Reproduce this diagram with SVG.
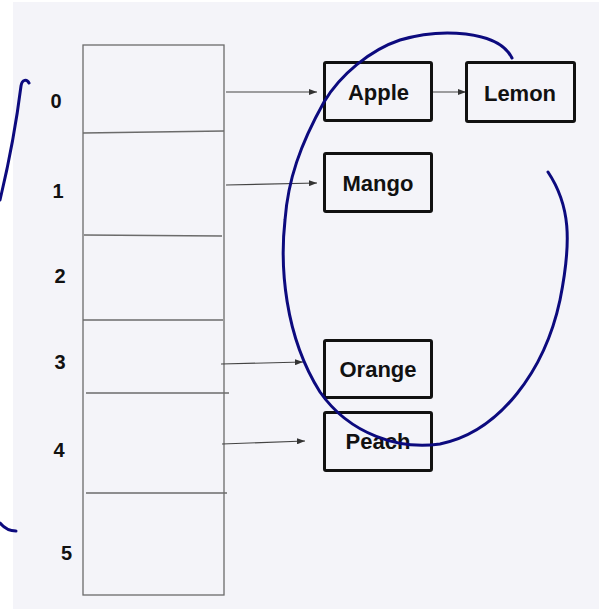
<svg xmlns="http://www.w3.org/2000/svg" width="599" height="611" viewBox="0 0 599 611">
  <style>
    .cell { fill: none; stroke: #6b6b6b; stroke-width: 1.3; }
    .idx { font-family: "Liberation Sans", Arial, sans-serif; font-weight: bold; font-size: 20px; fill: #111; text-anchor: middle; }
    .node rect { fill: none; stroke: #111; stroke-width: 3; }
    .node text { font-family: "Liberation Sans", Arial, sans-serif; font-weight: bold; font-size: 22px; fill: #111; text-anchor: middle; }
    .link { stroke: #444; stroke-width: 1.1; fill: none; marker-end: url(#head); }
    .ink { fill: none; stroke: #0c0a7e; stroke-width: 3; stroke-linecap: round; stroke-linejoin: round; }
  </style>
  <defs>
    <marker id="head" viewBox="0 0 8 6" refX="8" refY="3" markerWidth="8" markerHeight="6" markerUnits="userSpaceOnUse" orient="auto">
      <path d="M0,0 L8,3 L0,6 Z" fill="#333"/>
    </marker>
  </defs>

  <!-- page -->
  <rect width="599" height="611" fill="#ffffff"/>
  <rect x="13" y="2" width="586" height="607" fill="#f4f4f9"/>

  <!-- array of buckets -->
  <g id="array">
    <rect class="cell" x="83" y="45" width="141" height="550"/>
    <path class="cell" d="M83,133 L224,131"/>
    <path class="cell" d="M84,235 L222,236"/>
    <path class="cell" d="M83,320 L223,320"/>
    <path class="cell" d="M86,393 L229,393"/>
    <path class="cell" d="M86,493 L227,493"/>
  </g>

  <g id="indices">
    <text class="idx" x="56" y="108">0</text>
    <text class="idx" x="58" y="198">1</text>
    <text class="idx" x="60" y="283">2</text>
    <text class="idx" x="60" y="369">3</text>
    <text class="idx" x="59" y="457">4</text>
    <text class="idx" x="66.5" y="560">5</text>
  </g>

  <!-- connectors -->
  <g id="connectors">
    <path class="link" d="M226,92 L317,92"/>
    <path class="link" d="M226,185 L317,183"/>
    <path class="link" d="M433,92 L466,92"/>
    <path class="link" d="M221,364 L303,362"/>
    <path class="link" d="M222,444 L305,441"/>
  </g>

  <!-- list nodes -->
  <g id="apple" class="node">
    <rect x="324.5" y="62.5" width="107" height="58" rx="1.5"/>
    <text x="378.5" y="100">Apple</text>
  </g>
  <g id="lemon" class="node">
    <rect x="466.5" y="62.5" width="108" height="59" rx="1.5"/>
    <text x="520" y="101">Lemon</text>
  </g>
  <g id="mango" class="node">
    <rect x="324.5" y="153.5" width="107" height="58" rx="1.5"/>
    <text x="378" y="191">Mango</text>
  </g>
  <g id="orange" class="node">
    <rect x="324.5" y="340.5" width="107" height="57" rx="1.5"/>
    <text x="378" y="377">Orange</text>
  </g>
  <g id="peach" class="node">
    <rect x="324.5" y="412.5" width="107" height="58" rx="1.5"/>
    <text x="378" y="449">Peach</text>
  </g>

  <!-- hand-drawn annotations -->
  <g id="annotations">
    <path class="ink" d="M512,58 C498,30 440,28 400,40 C370,50 340,75 324,102 C300,145 288,180 285,220 C280,265 284,335 320,392 C350,435 400,450 440,444 C500,432 545,370 560,300 C572,240 570,205 548,172"/>
    <path class="ink" d="M29,83 C27,79 22,79 21,86 C18,110 12,150 0,200"/>
    <path class="ink" d="M0,523 C4,528 10,531 16,531"/>
  </g>
</svg>
